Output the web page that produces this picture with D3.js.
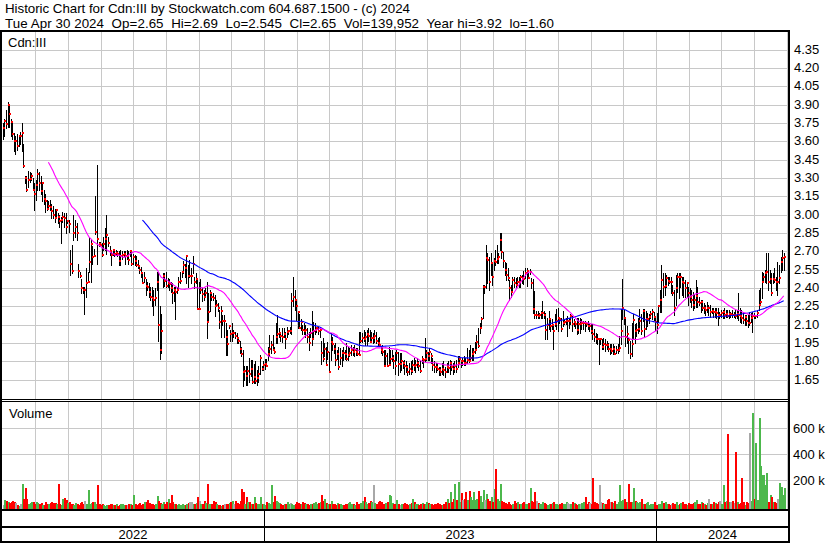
<!DOCTYPE html>
<html><head><meta charset="utf-8">
<script src="https://cdn.jsdelivr.net/npm/d3@7"></script>
<style>
body{margin:0;background:#fff}
svg{display:block}
text{font-family:"Liberation Sans",Arial,sans-serif;fill:#000}
</style>
</head><body>
<svg id="c" width="830" height="543"></svg>
<script>
// ---------------- DATA ----------------
const headerLine1 = "Historic Chart for Cdn:III by Stockwatch.com 604.687.1500 - (c) 2024";
const headerLine2 = "Tue Apr 30 2024  Op=2.65  Hi=2.69  Lo=2.545  Cl=2.65  Vol=139,952  Year hi=3.92  lo=1.60";
const symbolLabel = "Cdn:III";
const volumeLabel = "Volume";
const priceTicks = [4.35,4.20,4.05,3.90,3.75,3.60,3.45,3.30,3.15,3.00,2.85,2.70,2.55,2.40,2.25,2.10,1.95,1.80,1.65];
const volumeTicks = [200,400,600]; // thousands
const yearLabels = ["2022","2023","2024"];
const yearStartBar = [0,167,417];
const maShortPeriod = 30, maLongPeriod = 90;

const highs = [
3.75,3.78,3.86,3.92,3.90,3.78,3.75,3.67,3.64,3.66,
3.65,3.68,3.75,3.58,3.32,3.32,3.36,3.35,3.34,3.30,
3.26,3.28,3.37,3.35,3.32,3.27,3.20,3.17,3.12,3.11,
3.12,3.09,3.07,3.05,3.05,3.01,3.00,2.98,3.02,3.01,
3.01,2.96,2.96,2.71,2.75,3.00,2.96,2.93,2.60,2.53,
2.47,2.41,2.41,2.56,2.53,2.82,2.79,2.74,2.72,3.15,
3.41,2.78,2.78,2.77,2.82,2.89,3.00,2.82,2.74,2.71,
2.72,2.71,2.71,2.70,2.70,2.71,2.70,2.70,2.70,2.71,
2.70,
2.71,2.70,2.68,2.67,2.66,2.63,2.59,2.57,2.52,2.53,
2.47,2.45,2.44,2.41,2.41,2.38,2.40,2.53,2.53,2.25,
2.19,2.52,2.52,2.53,2.48,2.47,2.45,2.44,2.41,2.41,
2.41,2.49,2.53,2.53,2.62,2.60,2.67,2.59,2.63,2.56,
2.66,2.49,2.52,2.47,2.45,2.47,2.40,2.38,2.40,2.45,
2.36,2.38,2.36,2.36,2.34,2.30,2.28,2.22,2.25,2.18,
2.18,2.11,2.06,2.10,2.06,2.11,2.06,2.04,2.03,2.00,
1.97,1.92,1.89,1.76,1.76,1.76,1.83,1.81,1.81,1.78,
1.80,1.73,1.76,1.85,
1.76,1.80,1.82,1.82,1.92,2.015,1.97,2.015,1.92,2.11,
2.18,2.07,2.04,2.07,2.07,2.04,2.08,2.06,2.08,2.36,
2.49,2.38,2.29,2.21,2.19,2.15,2.10,2.11,2.10,2.07,
2.04,2.07,2.21,2.12,2.11,2.08,2.08,2.07,1.97,1.99,
1.95,1.92,1.96,1.88,2.03,2.00,1.93,1.95,1.89,1.92,
1.91,1.89,1.92,1.89,1.95,1.92,1.91,1.93,1.92,1.93,
1.91,1.91,2.04,2.04,2.03,2.06,2.04,2.06,2.07,2.06,
2.04,2.03,2.06,2.04,1.99,2.00,1.92,1.93,1.89,1.89,
1.865,1.92,1.89,1.89,
1.852,1.88,1.89,1.88,1.866,1.866,1.80,1.81,1.80,1.77,
1.784,1.80,1.81,1.825,1.81,1.825,1.80,1.80,1.84,1.825,
1.99,1.89,1.88,1.907,1.866,1.825,1.80,1.784,1.784,1.757,
1.757,1.784,1.80,1.757,1.784,1.80,1.81,1.80,1.784,1.80,
1.81,1.84,1.84,1.81,1.825,1.84,1.825,1.907,1.893,1.934,
1.907,1.907,1.96,2.016,2.07,2.11,2.166,2.425,2.425,2.752,
2.684,2.657,2.684,2.602,2.643,2.711,2.752,2.684,2.848,2.848,
2.698,2.616,2.602,2.561,2.466,2.425,2.493,2.493,2.48,2.493,
2.493,2.507,2.507,
2.54,2.567,2.567,2.526,2.553,2.485,2.471,2.376,2.212,2.212,
2.199,2.212,2.294,2.212,2.199,2.158,2.212,2.158,2.144,2.103,
2.185,2.226,2.24,2.158,2.158,2.212,2.144,2.158,2.171,2.158,
2.185,2.171,2.144,2.13,2.158,2.158,2.158,2.144,2.13,2.13,
2.117,2.13,2.117,2.103,2.103,2.062,2.035,2.021,1.994,1.994,
1.98,1.994,1.98,1.967,1.953,1.939,1.939,1.939,1.925,1.925,
1.939,2.008,2.226,2.471,2.226,2.158,2.09,1.994,1.967,2.117,
2.185,2.103,2.117,2.158,2.226,2.185,2.226,2.226,2.212,2.199,
2.185,2.212,2.226,
2.207,2.166,2.193,2.261,2.384,2.588,2.52,2.52,2.507,2.493,
2.493,2.493,2.425,2.384,2.507,2.52,2.52,2.52,2.493,2.493,
2.466,2.452,2.411,2.397,2.384,2.37,2.343,2.466,2.411,2.329,
2.302,2.302,2.275,2.261,2.288,2.261,2.261,2.234,2.234,2.234,
2.234,2.234,2.207,2.22,2.22,2.234,2.22,2.22,2.22,2.207,
2.22,2.207,2.22,2.22,2.357,2.234,2.22,2.207,2.179,2.179,
2.179,2.207,2.193,2.207,2.193,2.179,2.22,2.384,2.397,2.534,
2.52,2.548,2.684,2.684,2.548,2.52,2.52,2.561,2.493,2.616,
2.588,2.657,2.711,2.69
];

const lows = [
3.62,3.64,3.71,3.72,3.72,3.64,3.62,3.52,3.50,3.53,
3.56,3.58,3.52,3.39,3.26,3.19,3.23,3.27,3.28,3.20,
3.04,3.12,3.20,3.20,3.17,3.11,3.09,3.02,3.04,3.05,
3.04,2.97,2.97,2.94,2.98,2.93,2.90,2.765,2.94,2.90,
2.85,2.93,2.86,2.506,2.52,2.79,2.82,2.79,2.49,2.49,
2.36,2.36,2.19,2.33,2.45,2.53,2.45,2.60,2.66,2.84,
2.60,2.74,2.74,2.66,2.71,2.71,2.68,2.74,2.67,2.59,
2.67,2.66,2.67,2.66,2.59,2.59,2.64,2.66,2.60,2.64,
2.60,
2.66,2.59,2.60,2.59,2.58,2.56,2.52,2.49,2.44,2.45,
2.34,2.38,2.33,2.30,2.25,2.18,2.26,2.38,1.97,1.82,
1.87,2.41,2.42,2.41,2.41,2.38,2.37,2.28,2.29,2.15,
2.36,2.38,2.44,2.49,2.52,2.49,2.44,2.41,2.49,2.44,
2.52,2.40,2.44,2.23,2.23,2.36,2.29,2.30,2.33,1.99,
2.13,2.21,2.30,2.30,2.17,2.25,2.21,2.07,2.00,2.10,
2.00,1.85,1.85,2.07,1.97,1.97,2.00,1.99,1.95,1.95,
1.87,1.84,1.60,1.65,1.61,1.61,1.63,1.68,1.62,1.62,
1.62,1.61,1.63,1.70,
1.73,1.73,1.74,1.76,1.81,1.84,1.87,1.89,1.865,1.95,
1.95,2.00,1.97,1.96,2.00,1.91,2.00,2.02,2.03,2.02,
2.25,2.22,2.14,2.07,2.07,2.06,2.02,2.02,2.00,1.96,
1.89,2.00,1.93,1.99,2.02,2.04,2.02,2.00,1.78,1.80,
1.84,1.77,1.82,1.715,1.81,1.89,1.865,1.77,1.82,1.74,
1.78,1.76,1.81,1.82,1.81,1.81,1.84,1.85,1.85,1.84,
1.85,1.85,1.85,1.96,1.96,1.97,1.93,1.93,1.97,1.96,
1.96,1.95,1.96,1.95,1.93,1.93,1.865,1.85,1.76,1.78,
1.76,1.77,1.78,1.80,
1.743,1.70,1.81,1.69,1.716,1.73,1.743,1.70,1.716,1.69,
1.70,1.70,1.716,1.73,1.716,1.757,1.73,1.716,1.784,1.757,
1.80,1.81,1.81,1.81,1.784,1.73,1.716,1.716,1.73,1.689,
1.689,1.70,1.689,1.675,1.716,1.716,1.70,1.73,1.70,1.716,
1.716,1.757,1.80,1.757,1.77,1.77,1.77,1.784,1.798,1.81,
1.81,1.81,1.866,1.893,1.92,2.03,2.084,2.152,2.357,2.398,
2.439,2.384,2.507,2.425,2.548,2.589,2.602,2.602,2.711,2.643,
2.575,2.507,2.466,2.466,2.302,2.33,2.371,2.411,2.398,2.425,
2.411,2.411,2.439,
2.43,2.485,2.417,2.485,2.512,2.403,2.199,2.158,2.158,2.158,
2.158,2.158,2.158,2.158,1.98,1.98,2.062,2.049,2.062,1.899,
2.09,2.062,2.049,2.117,2.049,2.09,2.103,2.103,2.008,2.076,
2.103,2.049,2.09,2.076,2.021,2.035,2.035,2.062,2.062,2.049,
2.09,2.062,2.049,2.035,1.98,1.967,1.953,1.939,1.776,1.939,
1.899,1.899,1.885,1.899,1.885,1.858,1.871,1.858,1.858,1.871,
1.871,1.885,1.939,2.144,2.103,1.926,1.953,1.871,1.83,1.844,
1.98,1.953,2.008,2.035,2.049,2.021,2.13,2.008,2.062,2.09,
2.117,2.158,2.144,
2.138,2.057,2.029,2.125,2.207,2.207,2.329,2.343,2.411,2.425,
2.438,2.357,2.343,2.179,2.261,2.37,2.316,2.411,2.343,2.329,
2.329,2.329,2.261,2.288,2.248,2.22,2.234,2.248,2.248,2.261,
2.207,2.22,2.193,2.179,2.207,2.179,2.166,2.193,2.166,2.166,
2.152,2.097,2.152,2.166,2.152,2.152,2.166,2.166,2.152,2.166,
2.166,2.166,2.152,2.152,2.138,2.125,2.111,2.111,2.097,2.097,
2.084,2.10,2.125,2.043,2.152,2.152,2.166,2.22,2.275,2.316,
2.466,2.452,2.438,2.384,2.438,2.343,2.438,2.452,2.384,2.343,
2.438,2.534,2.548,2.545
];

const closes = [
3.71,3.77,3.74,3.90,3.82,3.76,3.66,3.60,3.60,3.56,
3.64,3.64,3.67,3.40,3.30,3.20,3.28,3.29,3.32,3.20,
3.17,3.24,3.33,3.26,3.19,3.26,3.13,3.11,3.05,3.07,
3.06,3.03,3.00,2.97,3.04,2.98,2.95,2.96,2.98,2.97,
2.90,2.95,2.92,2.60,2.54,2.85,2.90,2.85,2.54,2.50,
2.40,2.38,2.38,2.44,2.45,2.61,2.76,2.65,2.66,2.86,
2.80,2.76,2.75,2.67,2.76,2.80,2.83,2.77,2.70,2.67,
2.71,2.68,2.69,2.68,2.62,2.66,2.67,2.68,2.66,2.66,
2.63,
2.70,2.60,2.65,2.62,2.59,2.58,2.55,2.52,2.44,2.48,
2.42,2.41,2.37,2.33,2.32,2.30,2.32,2.45,2.10,1.89,
2.05,2.50,2.46,2.42,2.44,2.43,2.40,2.36,2.38,2.37,
2.38,2.45,2.46,2.53,2.59,2.56,2.66,2.50,2.50,2.50,
2.60,2.45,2.47,2.23,2.23,2.38,2.35,2.33,2.36,2.12,
2.20,2.36,2.33,2.32,2.25,2.26,2.24,2.12,2.21,2.13,
2.13,2.00,1.94,2.09,2.02,2.03,2.03,2.01,1.99,1.97,
1.90,1.86,1.71,1.72,1.68,1.72,1.70,1.74,1.63,1.67,
1.64,1.66,1.70,1.83,
1.74,1.77,1.78,1.76,1.86,1.90,1.93,1.89,1.88,2.00,
2.02,2.03,2.01,2.00,2.02,1.98,2.04,2.05,2.05,2.29,
2.33,2.30,2.25,2.20,2.07,2.12,2.06,2.05,2.06,2.00,
1.95,2.03,1.98,2.05,2.06,2.07,2.05,2.06,1.87,1.82,
1.90,1.77,1.88,1.715,1.96,1.94,1.90,1.81,1.86,1.75,
1.83,1.87,1.865,1.86,1.82,1.85,1.87,1.89,1.88,1.89,
1.88,1.86,1.85,1.97,1.99,1.98,2.00,2.02,2.01,1.96,
1.99,1.99,2.01,1.97,1.95,1.93,1.89,1.88,1.76,1.84,
1.76,1.77,1.82,1.83,
1.80,1.76,1.87,1.78,1.78,1.80,1.784,1.76,1.757,1.71,
1.74,1.72,1.77,1.765,1.77,1.79,1.76,1.72,1.817,1.81,
1.817,1.87,1.84,1.88,1.84,1.77,1.757,1.75,1.735,1.73,
1.71,1.74,1.73,1.716,1.75,1.743,1.79,1.757,1.74,1.76,
1.735,1.79,1.82,1.80,1.80,1.79,1.784,1.81,1.80,1.83,
1.86,1.88,1.893,1.96,1.926,2.07,2.144,2.41,2.41,2.643,
2.63,2.452,2.602,2.49,2.62,2.616,2.635,2.65,2.793,2.698,
2.62,2.55,2.507,2.48,2.398,2.371,2.466,2.444,2.425,2.452,
2.45,2.493,2.48,
2.47,2.526,2.54,2.485,2.531,2.44,2.231,2.177,2.177,2.171,
2.177,2.193,2.199,2.177,2.057,2.10,2.144,2.09,2.10,2.049,
2.103,2.13,2.158,2.144,2.062,2.117,2.122,2.13,2.13,2.13,
2.171,2.103,2.122,2.103,2.057,2.103,2.103,2.11,2.117,2.11,
2.103,2.09,2.09,2.049,2.027,2.00,1.986,1.98,1.98,1.98,
1.92,1.939,1.931,1.93,1.899,1.899,1.885,1.90,1.863,1.89,
1.895,1.912,2.049,2.24,2.158,2.003,2.02,1.975,1.858,1.939,
2.138,2.049,2.06,2.062,2.13,2.049,2.212,2.062,2.144,2.15,
2.16,2.19,2.20,
2.166,2.125,2.10,2.253,2.30,2.466,2.411,2.417,2.479,2.46,
2.452,2.452,2.357,2.234,2.40,2.493,2.488,2.493,2.45,2.444,
2.40,2.444,2.357,2.329,2.30,2.261,2.302,2.335,2.288,2.28,
2.288,2.234,2.24,2.22,2.234,2.234,2.207,2.21,2.20,2.207,
2.193,2.179,2.179,2.193,2.207,2.179,2.19,2.175,2.187,2.187,
2.179,2.179,2.17,2.19,2.179,2.17,2.152,2.138,2.166,2.13,
2.111,2.111,2.152,2.171,2.17,2.171,2.193,2.261,2.288,2.452,
2.493,2.52,2.534,2.452,2.471,2.357,2.47,2.466,2.452,2.452,
2.479,2.616,2.643,2.65
];

// volume in thousands of shares
const volumesK = [
12,48,38,30,22,30,40,35,22,10,5,15,175,60,140,60,15,25,30,35,
20,30,28,15,25,10,8,30,20,15,25,35,25,22,20,175,15,10,55,65,
45,25,30,20,15,10,25,18,12,25,35,20,40,18,125,15,25,30,35,20,
165,15,10,20,8,5,10,12,15,20,10,8,15,5,10,20,15,10,12,8,
15,20,10,85,15,10,20,25,12,15,30,35,45,25,20,15,10,20,80,40,
25,15,30,20,35,60,25,85,30,20,15,10,15,8,20,10,12,15,25,30,
35,20,15,25,75,40,20,15,38,25,168,20,15,15,40,30,15,10,8,5,
10,15,20,15,25,30,40,20,40,25,15,40,135,110,20,75,30,35,20,15,
75,25,15,20,75,20,15,10,30,25,20,165,35,80,40,30,25,15,10,20,
15,30,20,25,15,10,20,35,25,15,20,30,25,15,20,10,15,20,25,35,
20,25,30,85,40,60,25,20,15,40,20,15,10,25,20,15,10,8,15,20,
25,30,20,15,10,30,20,15,25,40,75,30,20,25,40,30,165,25,20,35,
40,30,20,15,25,30,85,80,25,20,15,45,20,10,15,20,25,15,10,20,
25,60,30,20,15,10,20,25,20,15,30,25,20,15,10,15,20,25,15,10,
10,20,35,60,25,113,30,60,175,50,190,35,100,50,60,110,45,120,70,50,
110,45,60,120,80,35,125,50,95,60,40,70,30,130,290,60,40,175,40,30,
25,20,30,15,10,20,40,25,30,15,20,25,30,20,15,25,138,40,30,113,
40,25,20,15,30,25,20,10,15,20,25,30,20,15,10,20,25,15,20,30,
25,20,15,30,25,20,10,15,20,25,30,75,20,35,25,20,215,30,25,20,
165,30,25,20,15,45,60,35,30,25,40,20,30,165,40,50,60,35,30,175,
30,35,140,40,30,25,35,60,20,15,25,30,10,15,20,35,10,8,15,20,
40,25,30,15,20,10,15,25,20,35,10,20,25,30,15,20,10,25,20,15,
25,30,50,20,15,35,25,20,10,25,60,20,15,30,25,20,35,40,20,165,
30,40,556,35,30,40,25,420,30,20,25,215,35,10,30,25,566,40,720,60,
489,50,682,310,241,241,164,259,36,87,74,30,36,23,60,177,151,87,140
];

// ---------------- DRAW ----------------
const n = closes.length;
const svg = d3.select("#c");
const PANEL_L = 2, PANEL_R = 788;
const x = d3.scaleLinear().domain([0, 502]).range([2.1, 789.2]);
const y = d3.scaleLinear().domain([1.5, 4.5]).range([398, 31.4]);
const yv = d3.scaleLinear().domain([0, 600]).range([506.3, 428.3]);
const PRICE_TOP = 31, PRICE_BOT = 399, VOL_TOP = 402, VOL_BOT = 509;
const GRID = "#c8c8c8";

svg.append("rect").attr("width",830).attr("height",543).attr("fill","#fff");

// grid
const g = svg.append("g").attr("shape-rendering","crispEdges");
const slotsPerYear = yearStartBar[2]-yearStartBar[1];
const monthSlots = d3.range(-8, 17).map(k => yearStartBar[1] + k*slotsPerYear/12);
monthSlots.forEach(s => {
  const px = Math.round(x(s));
  if (px <= PANEL_L+1 || px >= PANEL_R) return;
  g.append("line").attr("x1",px+0.5).attr("x2",px+0.5).attr("y1",PRICE_TOP).attr("y2",PRICE_BOT)
    .attr("stroke",GRID).attr("stroke-width",1);
  g.append("line").attr("x1",px+0.5).attr("x2",px+0.5).attr("y1",VOL_TOP).attr("y2",VOL_BOT)
    .attr("stroke",GRID).attr("stroke-width",1);
});
priceTicks.forEach(v => {
  const py = Math.round(y(v));
  g.append("line").attr("x1",PANEL_L).attr("x2",PANEL_R).attr("y1",py+0.5).attr("y2",py+0.5)
    .attr("stroke",GRID).attr("stroke-width",1);
});
volumeTicks.forEach(v => {
  const py = Math.round(yv(v));
  g.append("line").attr("x1",PANEL_L).attr("x2",PANEL_R).attr("y1",py+0.5).attr("y2",py+0.5)
    .attr("stroke",GRID).attr("stroke-width",1);
});

// price bars
const bars = svg.append("g").attr("shape-rendering","crispEdges");
const bx = i => Math.round(x(i+0.5));
for (let i=0;i<n;i++){
  const hi = Math.max(highs[i], closes[i]), lo = Math.min(lows[i], closes[i]);
  const y1 = Math.round(y(hi)), y2 = Math.round(y(lo));
  bars.append("rect").attr("x",bx(i)).attr("y",y1).attr("width",1).attr("height",Math.max(1,y2-y1+1)).attr("fill","#000");
}
for (let i=0;i<n;i++){
  const yc = Math.round(y(closes[i]));
  bars.append("rect").attr("x",bx(i)).attr("y",yc-1).attr("width",2).attr("height",2).attr("fill","#ff0000");
}

// moving averages
function sma(arr, p){ return arr.map((_,i)=> i<p-1 ? null : d3.mean(arr.slice(i-p+1,i+1))); }
const maS = sma(closes, maShortPeriod), maL = sma(closes, maLongPeriod);
const line = d3.line().defined(d=>d[1]!==null).x(d=>x(d[0]+0.5)).y(d=>y(d[1]));
svg.append("path").attr("d", line(maL.map((v,i)=>[i,v]))).attr("fill","none").attr("stroke","#0000ff").attr("stroke-width",1.1);
svg.append("path").attr("d", line(maS.map((v,i)=>[i,v]))).attr("fill","none").attr("stroke","#ff00ff").attr("stroke-width",1.1);

// volume bars
const vb = svg.append("g").attr("shape-rendering","crispEdges");
for (let i=0;i<n;i++){
  let col = "#a8a8a8";
  if (i>0 && closes[i]>closes[i-1]) col = "#4cb84c";
  else if (i>0 && closes[i]<closes[i-1]) col = "#ff0000";
  const top = Math.round(yv(volumesK[i]));
  vb.append("rect").attr("x",bx(i)).attr("y",top).attr("width",2).attr("height",Math.max(1,VOL_BOT-top)).attr("fill",col);
}

// frame lines
const f = svg.append("g").attr("shape-rendering","crispEdges").attr("fill","#000");
f.append("rect").attr("x",0).attr("y",30).attr("width",790).attr("height",2);
f.append("rect").attr("x",0).attr("y",30).attr("width",2).attr("height",513);
f.append("rect").attr("x",788).attr("y",30).attr("width",2).attr("height",513);
f.append("rect").attr("x",0).attr("y",399).attr("width",790).attr("height",1);
f.append("rect").attr("x",0).attr("y",401).attr("width",790).attr("height",1);
f.append("rect").attr("x",0).attr("y",509).attr("width",790).attr("height",2);
f.append("rect").attr("x",0).attr("y",526).attr("width",790).attr("height",2);
f.append("rect").attr("x",0).attr("y",541).attr("width",790).attr("height",2);
yearStartBar.slice(1).forEach(s => {
  const px = Math.round(x(s));
  f.append("rect").attr("x",px).attr("y",510).attr("width",1).attr("height",31);
});

// year labels
const bounds = [PANEL_L, ...yearStartBar.slice(1).map(s=>Math.round(x(s))), PANEL_R+1];
yearLabels.forEach((t,k) => {
  svg.append("text").attr("x",(bounds[k]+bounds[k+1])/2).attr("y",538.5).attr("text-anchor","middle")
    .style("font-size","13px").text(t);
});

// axis labels
priceTicks.forEach(v => {
  svg.append("text").attr("x",794).attr("y",Math.round(y(v))+3.5).style("font-size","13px").text(v.toFixed(2));
});
volumeTicks.forEach(v => {
  svg.append("text").attr("x",793).attr("y",Math.round(yv(v))+5).style("font-size","13px").text(v+" k");
});

// header + panel labels
svg.append("text").attr("x",5).attr("y",12.5).style("font-size","13.33px").style("white-space","pre")
  .attr("textLength",405).attr("lengthAdjust","spacing").text(headerLine1);
svg.append("text").attr("x",5).attr("y",27.5).style("font-size","13.33px").style("white-space","pre")
  .attr("textLength",549).attr("lengthAdjust","spacing").text(headerLine2);
svg.append("text").attr("x",8).attr("y",46.5).style("font-size","13px").text(symbolLabel);
svg.append("text").attr("x",9).attr("y",418).style("font-size","13px").text(volumeLabel);
</script>
</body></html>
